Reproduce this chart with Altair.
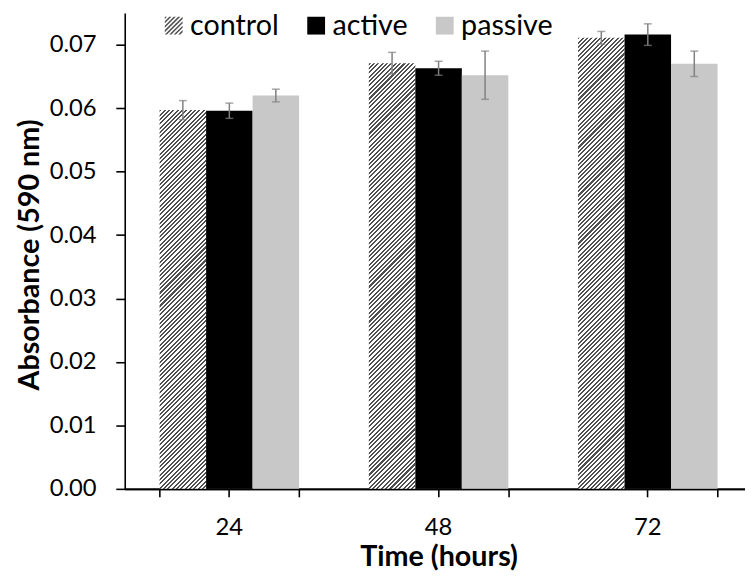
import altair as alt
import pandas as pd

# ---------------- data ----------------
times = ["24", "48", "72"]
series = ["control", "active", "passive"]
control_vals = [0.0597, 0.0671, 0.0711]
active_vals = [0.0596, 0.0663, 0.0716]
passive_vals = [0.0620, 0.0652, 0.0670]
control_err = [0.0015, 0.0017, 0.0010]
active_err = [0.0012, 0.0011, 0.0017]
passive_err = [0.0010, 0.0038, 0.0020]
y_ticks = [0.00, 0.01, 0.02, 0.03, 0.04, 0.05, 0.06, 0.07]

vals = {"control": control_vals, "active": active_vals, "passive": passive_vals}
errs = {"control": control_err, "active": active_err, "passive": passive_err}
rows = []
for s in series:
    for i, t in enumerate(times):
        rows.append({"time": t, "series": s, "value": vals[s][i], "err": errs[s][i]})
df = pd.DataFrame(rows)

FONT = "Lato"
DARK = "#505050"
LIGHT = "#ffffff"
ACTIVE = "#000000"
PASSIVE = "#c8c8c8"
ERR = "#808080"

PLOT_H = 481.0
Y_MAX = 0.075
BAR_W = 47.0
H_PERIOD = 4.4  # horizontal period of the hatch, px


def hatch_gradient(bar_h):
    """Diagonal '////' stripes as a linear gradient across the bar's bounding box."""
    r = BAR_W / bar_h
    gb = (r + 1) / (r * r + 1)
    ga = r * gb
    n_str = max(1, int(round((BAR_W + bar_h) / H_PERIOD)))
    duty = 0.47
    stops = []
    for i in range(n_str):
        t0 = round(i / n_str, 6)
        t1 = round((i + duty) / n_str, 6)
        t2 = round((i + 1) / n_str, 6)
        stops += [
            {"offset": t0, "color": DARK},
            {"offset": t1, "color": DARK},
            {"offset": t1, "color": LIGHT},
            {"offset": t2, "color": LIGHT},
        ]
    return {"gradient": "linear", "x1": 0, "y1": 0, "x2": round(ga, 5), "y2": round(gb, 5), "stops": stops}


# ---------------- hatch symbol path for legend ----------------
def clip(poly, f):
    out = []
    n = len(poly)
    for k in range(n):
        p, q = poly[k], poly[(k + 1) % n]
        fp, fq = f(p), f(q)
        if fp >= 0:
            out.append(p)
        if (fp >= 0) != (fq >= 0):
            tt = fp / (fp - fq)
            out.append((p[0] + tt * (q[0] - p[0]), p[1] + tt * (q[1] - p[1])))
    return out


square = [(-1, -1), (1, -1), (1, 1), (-1, 1)]
period = 0.5
thick = 0.24
parts = []
c = -2.0
while c < 2.0:
    c0, c1 = c, c + thick
    poly = clip(square, lambda p, c0=c0: p[0] + p[1] - c0)
    poly = clip(poly, lambda p, c1=c1: c1 - (p[0] + p[1]))
    if len(poly) >= 3:
        parts.append("M" + " L".join(f"{x:.3f},{y:.3f}" for x, y in poly) + " Z")
    c += period
hatch_path = " ".join(parts)

# ---------------- encodings ----------------
x_scale = alt.Scale(domain=times, range=[0, 634.5], paddingInner=1 / 3, paddingOuter=1 / 6)
xoff_scale = alt.Scale(domain=series)
y_scale = alt.Scale(domain=[0, Y_MAX], nice=False)
color_scale = alt.Scale(domain=series, range=[DARK, ACTIVE, PASSIVE])
shape_scale = alt.Scale(domain=series, range=[hatch_path, "square", "square"])

y_axis = alt.Axis(
    values=y_ticks, format=".2f", tickSize=9, labelPadding=20, labelFontSize=24,
    title="Absorbance (590 nm)", titleFontSize=29, titleFontWeight="bold",
    titleAngle=270, titleAlign="center", titleBaseline="middle", titleX=-96, titleY=244,
    grid=False,
)
Y = alt.Y("value:Q", scale=y_scale, axis=y_axis)
XOFF = alt.XOffset("series:N", scale=xoff_scale)
X_NOAXIS = alt.X("time:N", scale=x_scale, axis=None)

base = alt.Chart(df)

# control bars, one layer per time point so each hatch keeps 45 degree stripes
control_layers = []
for i, t in enumerate(times):
    h = control_vals[i] / Y_MAX * PLOT_H
    if i == 0:
        xenc = alt.X("time:N", scale=x_scale, axis=alt.Axis(orient="bottom", tickBand="extent", labels=False,
                                                           tickSize=8, title=None, grid=False))
    else:
        xenc = X_NOAXIS
    control_layers.append(
        base.transform_filter((alt.datum.series == "control") & (alt.datum.time == t))
        .mark_bar(fill=hatch_gradient(h))
        .encode(x=xenc, xOffset=XOFF, y=Y)
    )

other_bars = base.transform_filter(alt.datum.series != "control").mark_bar().encode(
    x=alt.X("time:N", scale=x_scale, axis=alt.Axis(orient="bottom", tickSize=8, labelPadding=19,
                                                  labelFontSize=24, labelAngle=0,
                                                  title="Time (hours)", titleFontSize=29,
                                                  titleFontWeight="bold", titleBaseline="middle",
                                                  titleY=68, grid=False)),
    xOffset=XOFF, y=Y,
    fill=alt.condition(alt.datum.series == "active", alt.value(ACTIVE), alt.value(PASSIVE)),
)

err_base = base.transform_calculate(lo="datum.value - datum.err", hi="datum.value + datum.err")
err_rules = err_base.mark_rule(color=ERR, strokeWidth=1.5).encode(
    x=X_NOAXIS, xOffset=XOFF,
    y=alt.Y("lo:Q", scale=y_scale, axis=y_axis), y2="hi:Q",
)
cap_lo = err_base.mark_tick(color=ERR, thickness=1.5, size=8).encode(
    x=X_NOAXIS, xOffset=XOFF, y=alt.Y("lo:Q", scale=y_scale, axis=y_axis),
)
cap_hi = err_base.mark_tick(color=ERR, thickness=1.5, size=8).encode(
    x=X_NOAXIS, xOffset=XOFF, y=alt.Y("hi:Q", scale=y_scale, axis=y_axis),
)

legend = alt.Legend(
    orient="none", legendX=35, legendY=-2, direction="horizontal", title=None,
    labelFont=FONT, labelFontSize=29, labelColor="#000000", symbolSize=324,
    symbolOpacity=1, symbolStrokeWidth=0, columnPadding=23, labelOffset=2, padding=0,
    labelBaseline="middle",
)
legend_pts = base.mark_point(filled=True, opacity=0).encode(
    x=X_NOAXIS, xOffset=XOFF, y=Y,
    color=alt.Color("series:N", scale=color_scale, legend=legend),
    shape=alt.Shape("series:N", scale=shape_scale, legend=legend),
)

chart = (
    alt.layer(*control_layers, other_bars, err_rules, cap_lo, cap_hi, legend_pts)
    .resolve_axis(x="independent")
    .properties(
        width=627, height=481,
        autosize=alt.AutoSizeParams(type="none"),
        padding={"left": 118, "top": 2, "right": 0, "bottom": 87},
    )
    .configure(font=FONT)
    .configure_view(stroke=None)
    .configure_axis(
        domainColor="#000000", domainWidth=1.6, tickColor="#000000", tickWidth=1.6,
        labelColor="#000000", titleColor="#000000", labelFont=FONT, titleFont=FONT,
    )
)

chart.save("out.html", embed_options={"renderer": "svg", "actions": False})
